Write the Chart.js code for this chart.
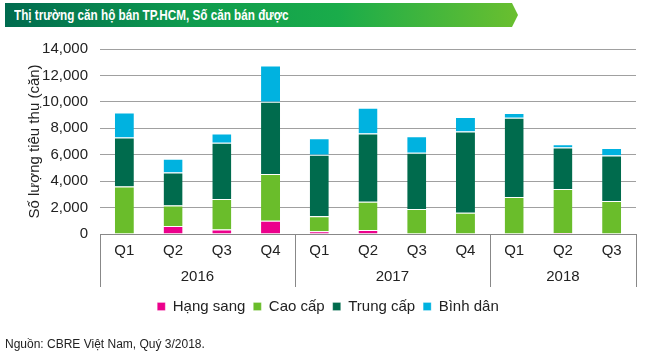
<!DOCTYPE html>
<html>
<head>
<meta charset="utf-8">
<script src="https://cdn.jsdelivr.net/npm/chart.js@4.4.1/dist/chart.umd.min.js"></script>
<style>
  html, body { margin: 0; padding: 0; background: #fff; }
  #wrap { position: relative; width: 656px; height: 355px; overflow: hidden; font-family: "Liberation Sans", Arial, sans-serif; }
  #banner { position: absolute; left: 5px; top: 3px; width: 513px; height: 24px;
    background: linear-gradient(to right, #006b4f 0%, #0e9a4e 35%, #1aac4a 65%, #6abf2f 100%);
    clip-path: polygon(0 0, 507px 0, 513px 12px, 507px 24px, 0 24px); }
  #title { position: absolute; left: 14px; top: 3px; height: 24px; line-height: 24px; color: #fff;
    font-family: "Liberation Sans", Arial, sans-serif; font-weight: bold; font-size: 15.5px; white-space: nowrap;
    transform: scaleX(0.755); transform-origin: 0 50%; }
  #source { position: absolute; left: 5px; top: 337px; font-size: 12px; color: #222; white-space: nowrap; }
  canvas { position: absolute; left: 0; top: 0; }
</style>
</head>
<body>
<div id="wrap">
  <div id="banner"></div>
  <div id="title">Thị trường căn hộ bán TP.HCM, Số căn bán được</div>
  <canvas id="c" width="656" height="355"></canvas>
  <div id="source">Nguồn: CBRE Việt Nam, Quý 3/2018.</div>
</div>
<script>
const quarters = ['Q1','Q2','Q3','Q4','Q1','Q2','Q3','Q4','Q1','Q2','Q3'];
const years = ['2016','2017','2018'];
const quartersPerYear = [4, 4, 3];
const seriesNames = ['Hạng sang','Cao cấp','Trung cấp','Bình dân'];
const hangSang = [0, 600, 350, 1000, 200, 300, 0, 0, 0, 80, 0];
const caoCap   = [3600, 1550, 2300, 3550, 1150, 2150, 1900, 1600, 2800, 3320, 2500];
const trungCap = [3700, 2500, 4250, 5450, 4650, 5150, 4250, 6150, 6000, 3150, 3450];
const binhDan  = [1900, 1050, 700, 2750, 1250, 1950, 1250, 1100, 350, 250, 550];
const yTickValues = [0, 2000, 4000, 6000, 8000, 10000, 12000, 14000];
const yAxisTitle = 'Số lượng tiêu thụ (căn)';
const colors = ['#ec008c', '#6abd2b', '#006b4d', '#00b2e0'];

const FONT = '"Liberation Sans", Arial, sans-serif';

const groupPlugin = {
  id: 'groupAxis',
  afterDraw(chart) {
    const x = chart.scales.x;
    const ctx = chart.ctx;
    const area = chart.chartArea;
    const top = x.top;
    const bottom = top + 53;
    const bounds = [area.left];
    let idx = 0;
    quartersPerYear.forEach((n, g) => {
      idx += n;
      if (g < quartersPerYear.length - 1) {
        bounds.push((x.getPixelForValue(idx - 1) + x.getPixelForValue(idx)) / 2);
      }
    });
    bounds.push(area.right);
    ctx.save();
    ctx.strokeStyle = '#888';
    ctx.lineWidth = 1;
    bounds.forEach(b => {
      const xx = Math.round(b) + 0.5;
      ctx.beginPath();
      ctx.moveTo(xx, top);
      ctx.lineTo(xx, bottom);
      ctx.stroke();
    });
    ctx.fillStyle = '#222';
    ctx.font = '15px ' + FONT;
    ctx.textAlign = 'center';
    ctx.textBaseline = 'middle';
    years.forEach((y, i) => {
      ctx.fillText(y, (bounds[i] + bounds[i + 1]) / 2, top + 43);
    });
    ctx.restore();
  }
};

const datasets = [hangSang, caoCap, trungCap, binhDan].map((d, i) => ({
  label: seriesNames[i],
  data: d,
  backgroundColor: colors[i],
  borderColor: '#ffffff',
  borderWidth: {top: 1, right: 0, bottom: 0, left: 0},
  borderSkipped: false,
  barPercentage: 0.39,
  categoryPercentage: 1.0
}));

new Chart(document.getElementById('c'), {
  type: 'bar',
  data: { labels: quarters, datasets },
  plugins: [groupPlugin],
  options: {
    responsive: false,
    animation: false,
    devicePixelRatio: 1,
    layout: { padding: { top: 49, right: 20, left: 20, bottom: 31 } },
    plugins: {
      legend: {
        position: 'bottom',
        labels: { boxWidth: 8, boxHeight: 8, padding: 8, color: '#222', font: { family: FONT, size: 15 } }
      },
      tooltip: { enabled: false }
    },
    scales: {
      x: {
        stacked: true,
        grid: { display: false, drawTicks: false },
        border: { display: true, color: '#888', width: 1 },
        ticks: { color: '#222', font: { family: FONT, size: 15 }, padding: 8, maxRotation: 0, autoSkip: false },
        afterFit(s) { s.height = 57; }
      },
      y: {
        stacked: true,
        min: 0,
        max: yTickValues[yTickValues.length - 1],
        afterBuildTicks(s) { s.ticks = yTickValues.map(v => ({ value: v })); },
        grid: { color: '#a0a0a0', lineWidth: 1, drawTicks: false },
        border: { display: false },
        ticks: { color: '#222', font: { family: FONT, size: 15 }, padding: 12,
          callback: v => Number(v).toLocaleString('en-US') },
        title: { display: true, text: yAxisTitle, color: '#222', font: { family: FONT, size: 15 }, padding: { top: 6, bottom: 0 } },
        afterFit(s) { s.width = 80; }
      }
    }
  }
});
</script>
</body>
</html>
